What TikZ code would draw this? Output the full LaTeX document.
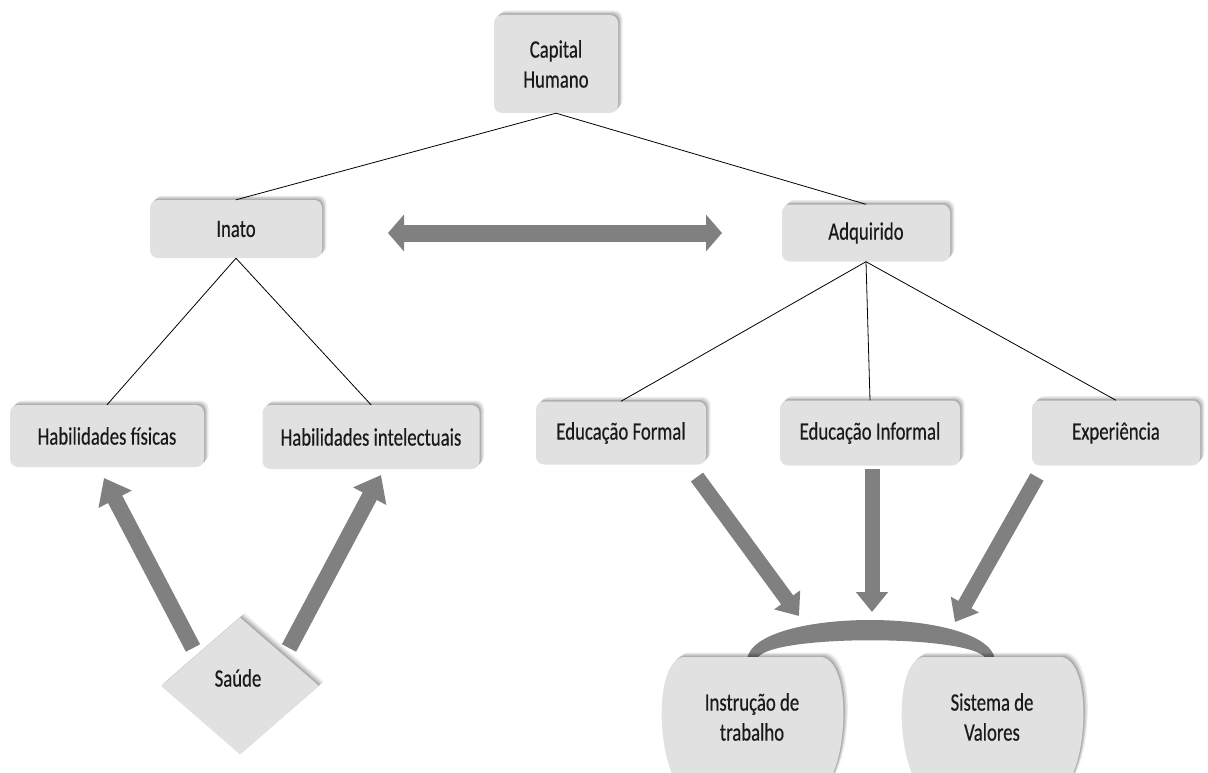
\documentclass[tikz,border=0pt]{standalone}
\usepackage{fontspec}
\setmainfont{Carlito}[FakeStretch=0.75,FakeBold=0.4]
\usetikzlibrary{arrows.meta,shapes.geometric,shadows}
\definecolor{boxfill}{HTML}{E1E1E1}
\definecolor{arrowgray}{HTML}{808080}
\definecolor{txt}{HTML}{1A1A1A}
\tikzset{
  softshadow/.style={
    drop shadow={shadow xshift=4.5pt,shadow yshift=4.5pt,opacity=.08,fill=black},
    drop shadow={shadow xshift=3pt,shadow yshift=3pt,opacity=.12,fill=black},
    drop shadow={shadow xshift=1.5pt,shadow yshift=1.5pt,opacity=.15,fill=black}},
  lbl/.style={text=txt, align=center, font=\fontsize{25}{30}\selectfont},
  box/.style={lbl, draw=none, fill=boxfill, rounded corners=8pt, softshadow, inner sep=0pt},
  endshape/.style={fill=boxfill, softshadow},
  conn/.style={draw=black, line width=0.8pt},
  fat/.style={draw=arrowgray, line width=16pt, -{Triangle[width=36pt,length=24pt]}},
  fatr/.style={draw=arrowgray, line width=15pt, -{Triangle[width=31pt,length=20pt]}},
}
\newcommand{\barrelpath}{(683,657) -- (822,657)
  .. controls (838,660) and (845,690) .. (843,725)
  .. controls (841,755) and (835,772) .. (825,790)
  -- (680,790)
  .. controls (670,772) and (664,755) .. (662,725)
  .. controls (660,690) and (667,660) .. (683,657) -- cycle}
\begin{document}
\begin{tikzpicture}[x=1pt,y=-1pt]
\useasboundingbox (0,0) rectangle (1208,773);
\clip (0,0) rectangle (1208,773);
\fill[white] (0,0) rectangle (1208,773);

% fat arrows (behind boxes)
\coordinate (dl) at (388,233);
\coordinate (dr) at (722,233);
\draw[draw=arrowgray, line width=17pt, {Triangle[width=36pt,length=16pt]}-{Triangle[width=36pt,length=16pt]}] (dl) -- (dr);

\coordinate (s1a) at (193,648);
\coordinate (s1b) at (104,478);
\coordinate (s2a) at (289,648);
\coordinate (s2b) at (381,475);
\draw[fat] (s1a) -- (s1b);
\draw[fat] (s2a) -- (s2b);

\coordinate (r1a) at (697,477);
\coordinate (r1b) at (799,616);
\coordinate (r2a) at (872,469);
\coordinate (r2b) at (872,612);
\coordinate (r3a) at (1037,477);
\coordinate (r3b) at (955,622);
\draw[fatr] (r1a) -- (r1b);
\draw[fatr] (r2a) -- (r2b);
\draw[fatr] (r3a) -- (r3b);

% crescent
\fill[arrowgray] (747,659) .. controls (755,607) and (985,607) .. (995,659)
  -- (986,659) .. controls (975,634) and (765,634) .. (757,659) -- cycle;

% boxes
\node[box, minimum width=124pt, minimum height=98pt] (cap) at (556,64) {Capital\\Humano};
\node[box, minimum width=172pt, minimum height=58pt] (inato) at (236,229) {Inato};
\node[box, minimum width=168pt, minimum height=57pt] (adq) at (866,233) {Adquirido};
\node[box, minimum width=194pt, minimum height=62pt] (hf) at (107,436) {Habilidades físicas};
\node[box, minimum width=217pt, minimum height=64pt] (hi) at (371,437) {Habilidades intelectuais};
\node[box, minimum width=170pt, minimum height=63pt] (ef) at (621,433) {Educação Formal};
\node[box, minimum width=180pt, minimum height=65pt] (ei) at (870,433) {Educação Informal};
\node[box, minimum width=168pt, minimum height=65pt] (ex) at (1116,433) {Experiência};

\node[diamond, draw=none, fill=boxfill, softshadow, inner sep=0pt, minimum width=158pt, minimum height=137pt] (sau) at (240,686) {};
\node[lbl] (saut) at (238,678) {Saúde};

% bottom barrel shapes
\path[endshape] \barrelpath;
\begin{scope}[shift={(240,0)}]
\path[endshape] \barrelpath;
\end{scope}
\node[lbl] (it) at (752,717) {Instrução de\\trabalho};
\node[lbl] (sv) at (992,717) {Sistema de\\Valores};

% connectors
\draw[conn] (cap.south) -- (inato.north);
\draw[conn] (cap.south) -- (adq.north);
\draw[conn] (inato.south) -- (hf.north);
\draw[conn] (inato.south) -- (hi.north);
\draw[conn] (adq.south) -- (ef.north);
\draw[conn] (adq.south) -- (ei.north);
\draw[conn] (adq.south) -- (ex.north);
\end{tikzpicture}
\end{document}
